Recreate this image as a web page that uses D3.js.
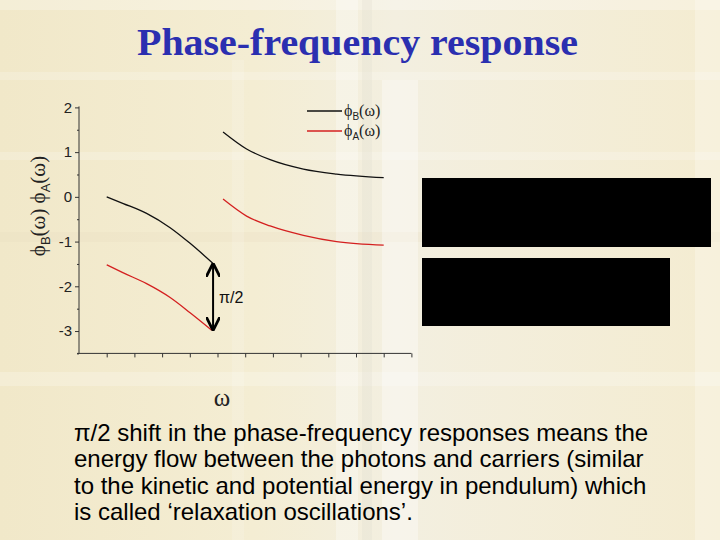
<!DOCTYPE html>
<html><head><meta charset="utf-8">
<script src="https://cdn.jsdelivr.net/npm/d3@7"></script>
<style>html,body{margin:0;padding:0;background:#f3ecd2;}svg{display:block;}</style>
</head><body>
<script>
// ---- data ----
const phiB_low_x = [1.0, 1.6, 2.44, 3.29, 4.01, 4.84];
const phiB_low_y = [0.0, -0.15, -0.37, -0.69, -1.04, -1.49];
const phiA_low_x = [1.0, 1.6, 2.44, 3.29, 4.01, 4.79];
const phiA_low_y = [-1.52, -1.70, -1.94, -2.25, -2.59, -2.98];
const phiB_high_x = [5.2, 6.05, 6.9, 8.1, 9.3, 11.0];
const phiB_high_y = [1.45, 1.07, 0.83, 0.62, 0.51, 0.43];
const phiA_high_x = [5.2, 6.05, 6.9, 8.1, 9.3, 11.0];
const phiA_high_y = [-0.05, -0.43, -0.65, -0.86, -1.00, -1.08];
const yTicks = [-3, -2, -1, 0, 1, 2];
const yTickLabels = ["-3", "-2", "-1", "0", "1", "2"];
const yMinorTicks = [-3.5, -2.5, -1.5, -0.5, 0.5, 1.5];
const xTicks = [1,2,3,4,5,6,7,8,9,10,11,12];
const arrowX = 4.84, arrowTop = -1.49, arrowBottom = -2.98;
const titleText = "Phase-frequency response";
const bodyLines = [
  "π/2 shift in the phase-frequency responses means the",
  "energy flow between the photons and carriers (similar",
  "to the kinetic and potential energy in pendulum) which",
  "is called ‘relaxation oscillations’."
];

const W = 720, H = 540;
const svg = d3.select("body").append("svg").attr("width", W).attr("height", H);

// background texture
const defs = svg.append("defs");
const g1 = defs.append("linearGradient").attr("id","bg").attr("x1",0).attr("x2",1).attr("y1",0).attr("y2",0);
g1.append("stop").attr("offset","0").attr("stop-color","#f1e8c9");
g1.append("stop").attr("offset","0.35").attr("stop-color","#f4edd3");
g1.append("stop").attr("offset","0.55").attr("stop-color","#f3efe0");
g1.append("stop").attr("offset","1").attr("stop-color","#f4ecd1");
svg.append("rect").attr("width",W).attr("height",H).attr("fill","url(#bg)");
const stripes = [
  {x:0,y:0,w:720,h:10,c:"#ffffff",o:0.25},
  {x:0,y:72,w:720,h:8,c:"#ffffff",o:0.2},
  {x:0,y:152,w:720,h:8,c:"#ffffff",o:0.2},
  {x:0,y:232,w:720,h:10,c:"#e6dcc0",o:0.25},
  {x:0,y:372,w:720,h:14,c:"#ffffff",o:0.22},
  {x:336,y:0,w:22,h:540,c:"#ffffff",o:0.3},
  {x:362,y:0,w:10,h:540,c:"#e2ddd0",o:0.3},
  {x:382,y:80,w:36,h:460,c:"#ffffff",o:0.35},
  {x:695,y:0,w:25,h:540,c:"#ffffff",o:0.25},
  {x:232,y:60,w:12,h:480,c:"#ffffff",o:0.15}
];
svg.append("g").selectAll("rect").data(stripes).join("rect")
  .attr("x",d=>d.x).attr("y",d=>d.y).attr("width",d=>d.w).attr("height",d=>d.h)
  .attr("fill",d=>d.c).attr("opacity",d=>d.o);

// title
svg.append("text").attr("x",137).attr("y",55)
  .attr("font-family","'Liberation Serif','Times New Roman',serif").attr("font-weight","bold")
  .attr("font-size",38).attr("fill","#2b2fb0")
  .attr("textLength",441).attr("lengthAdjust","spacingAndGlyphs").text(titleText);

// scales
const x = d3.scaleLinear().domain([0,12]).range([79,411.4]);
const y = d3.scaleLinear().domain([-3.5,2]).range([353.4,107.4]);

const axFont = "'Liberation Sans',Arial,sans-serif";
const axisCol = "#333";
// y axis
const ya = svg.append("g").attr("transform",`translate(${x(0)},0)`)
  .call(d3.axisLeft(y).tickValues(yTicks).tickSize(4).tickPadding(3).tickFormat((d,i)=>yTickLabels[i]));
ya.select(".domain").attr("stroke",axisCol).attr("d",`M0,${y(2)-1}V${y(-3.5)}`);
ya.selectAll(".tick line").attr("stroke",axisCol);
ya.selectAll(".tick text").attr("font-family",axFont).attr("font-size",15).attr("fill","#222");
svg.append("g").attr("transform",`translate(${x(0)},0)`)
  .call(d3.axisLeft(y).tickValues(yMinorTicks).tickSize(2).tickFormat(""))
  .call(g=>g.select(".domain").remove()).selectAll("line").attr("stroke",axisCol);
// x axis
const xa = svg.append("g").attr("transform",`translate(0,${y(-3.5)})`)
  .call(d3.axisBottom(x).tickValues(xTicks).tickSize(4).tickFormat(""));
xa.select(".domain").attr("stroke",axisCol).attr("d",`M${x(0)-2},0H${x(12)}`);
xa.selectAll(".tick line").attr("stroke",axisCol);

// curves
const line = d3.line().x(d=>x(d[0])).y(d=>y(d[1])).curve(d3.curveMonotoneX);
const zip = (a,b)=>a.map((v,i)=>[v,b[i]]);
const series = [
  {d:zip(phiB_low_x,phiB_low_y),c:"#111"},
  {d:zip(phiA_low_x,phiA_low_y),c:"#d42020"},
  {d:zip(phiB_high_x,phiB_high_y),c:"#111"},
  {d:zip(phiA_high_x,phiA_high_y),c:"#d42020"}
];
svg.append("g").selectAll("path").data(series).join("path")
  .attr("d",s=>line(s.d)).attr("fill","none").attr("stroke",s=>s.c).attr("stroke-width",1.3);

// arrow
defs.append("marker").attr("id","ah").attr("viewBox","0 0 10 10").attr("refX",9).attr("refY",5)
  .attr("markerWidth",7).attr("markerHeight",7).attr("orient","auto-start-reverse")
  .append("path").attr("d","M0,0L10,5L0,10").attr("fill","none").attr("stroke","#000").attr("stroke-width",2);
svg.append("line").attr("x1",x(arrowX)).attr("x2",x(arrowX)).attr("y1",y(arrowTop)+1).attr("y2",y(arrowBottom)-1)
  .attr("stroke","#000").attr("stroke-width",2)
  .attr("marker-start","url(#ah)").attr("marker-end","url(#ah)");
svg.append("text").attr("x",x(arrowX)+6).attr("y",y((arrowTop+arrowBottom)/2)+6)
  .attr("font-family",axFont).attr("font-size",16).attr("fill","#111").text("π/2");

// legend
const leg = [{lab:"B",c:"#111",yy:111},{lab:"A",c:"#d42020",yy:131}];
const lg = svg.append("g").selectAll("g").data(leg).join("g");
lg.append("line").attr("x1",307).attr("x2",342).attr("y1",d=>d.yy).attr("y2",d=>d.yy).attr("stroke",d=>d.c).attr("stroke-width",1.3);
const lt = lg.append("text").attr("x",344).attr("y",d=>d.yy+5).attr("font-family","'Liberation Serif',serif").attr("font-size",16).attr("fill","#222");
lt.append("tspan").text("ϕ");
lt.append("tspan").attr("dy",4).attr("font-size",10).attr("font-family",axFont).text(d=>d.lab);
lt.append("tspan").attr("dy",-4).text("(ω)");

// y label
const yl = svg.append("text").attr("transform","translate(45,206) rotate(-90)").attr("text-anchor","middle")
  .attr("font-family","'Liberation Serif',serif").attr("font-size",21).attr("fill","#222");
yl.append("tspan").text("ϕ");
yl.append("tspan").attr("dy",5).attr("font-size",13).attr("font-family",axFont).text("B");
yl.append("tspan").attr("dy",-5).text("(ω)  ϕ");
yl.append("tspan").attr("dy",5).attr("font-size",13).attr("font-family",axFont).text("A");
yl.append("tspan").attr("dy",-5).text("(ω)");

// x label
svg.append("text").attr("x",222).attr("y",406).attr("text-anchor","middle")
  .attr("font-family","'Liberation Serif',serif").attr("font-size",25).attr("fill","#222").text("ω");

// black boxes
svg.append("rect").attr("x",422).attr("y",178).attr("width",289).attr("height",69).attr("fill","#000");
svg.append("rect").attr("x",422).attr("y",258).attr("width",248).attr("height",68).attr("fill","#000");

// body text
svg.append("g").selectAll("text").data(bodyLines).join("text")
  .attr("x",74).attr("y",(d,i)=>441+i*26.3)
  .attr("font-family",axFont).attr("font-size",24).attr("fill","#000").text(d=>d);
</script>
</body></html>
